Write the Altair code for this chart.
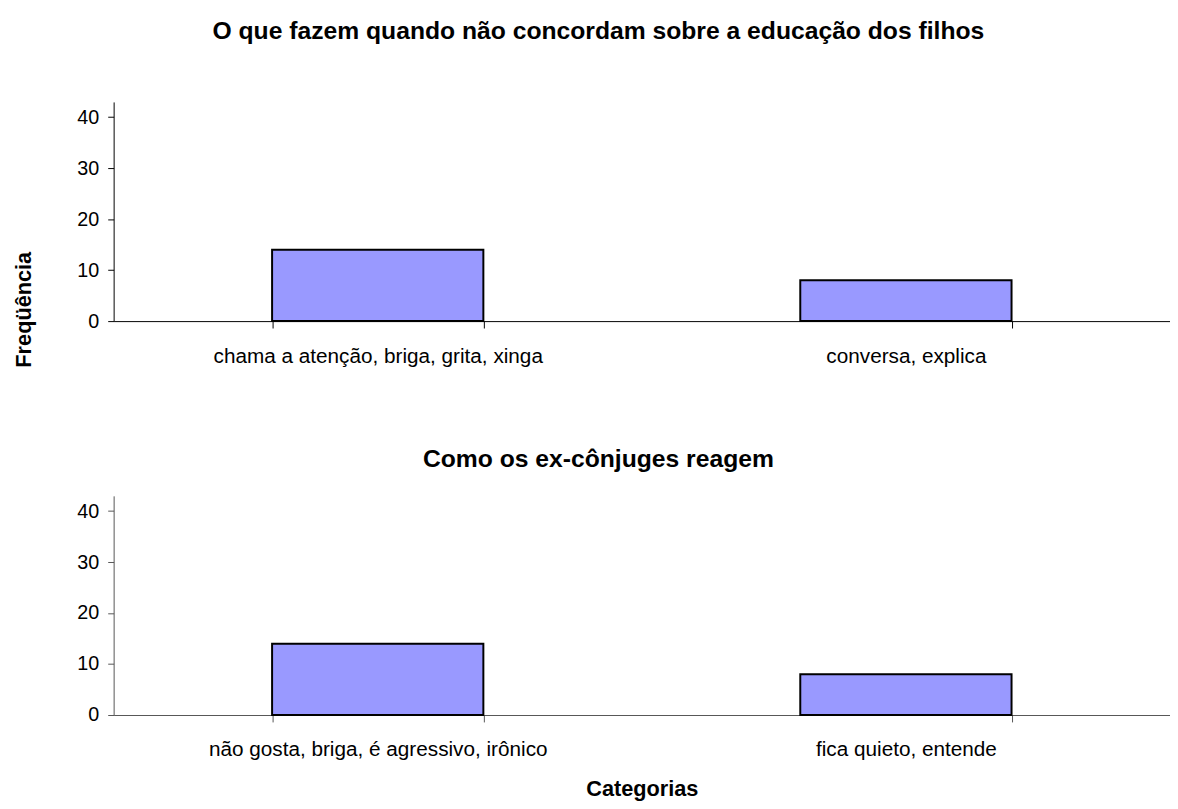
import altair as alt
import pandas as pd

# ---- data ----
top_categories = ["chama a atenção, briga, grita, xinga", "conversa, explica"]
top_values = [14, 8]
bottom_categories = ["não gosta, briga, é agressivo, irônico", "fica quieto, entende"]
bottom_values = [14, 8]
y_ticks = [0, 10, 20, 30, 40]
y_max = 43

top_title = "O que fazem quando não concordam sobre a educação dos filhos"
bottom_title = "Como os ex-cônjuges reagem"
y_title = "Freqüência"
x_title = "Categorias"

FONT = "Liberation Sans"
BAR_FILL = "#9999FF"


def panel(cats, vals, title, title_offset, axis_color, show_y_title, show_x_title):
    df = pd.DataFrame({"cat": cats, "val": vals})

    x_axis_kw = dict(
        labelAngle=0, tickBand="extent", tickSize=7, labelFontSize=21,
        labelFont=FONT, labelColor="black", labelPadding=17.5, labelLimit=800,
        domainColor=axis_color, tickColor=axis_color, grid=False,
    )
    if show_x_title:
        x_axis_kw.update(title=x_title, titleFont=FONT, titleFontSize=22,
                         titleFontWeight="bold", titleColor="black",
                         titleY=82, titleBaseline="alphabetic")
    else:
        x_axis_kw.update(title=None)

    y_axis_kw = dict(
        values=y_ticks, tickSize=6, labelPadding=9, labelFontSize=20,
        labelFont=FONT, labelColor="black", domainColor=axis_color,
        tickColor=axis_color, grid=False,
    )
    if show_y_title:
        y_axis_kw.update(title=y_title, titleFont=FONT, titleFontSize=22,
                         titleFontWeight="bold", titleColor="black",
                         titleAngle=270, titleX=-84, titleY=210,
                         titleAlign="center", titleBaseline="alphabetic")
    else:
        y_axis_kw.update(title=None)

    return alt.Chart(df).mark_bar(
        color=BAR_FILL, stroke="black", strokeWidth=2
    ).encode(
        x=alt.X("cat:N", sort=cats,
                scale=alt.Scale(paddingInner=0.6, paddingOuter=0.3),
                axis=alt.Axis(**x_axis_kw)),
        y=alt.Y("val:Q", scale=alt.Scale(domain=[0, y_max], nice=False),
                axis=alt.Axis(**y_axis_kw)),
    ).properties(
        width=1070, height=222,
        title=alt.TitleParams(
            text=title, font=FONT, fontSize=25, fontWeight="bold",
            color="black", anchor="middle", dx=-44, offset=title_offset,
            baseline="alphabetic",
        ),
    )


top = panel(top_categories, top_values, top_title, 38.5, "black", True, False)
bottom = panel(bottom_categories, bottom_values, bottom_title, 4, "#555555", False, True)

chart = alt.vconcat(top, bottom, spacing=177, bounds="flush").properties(
    padding={"left": 5, "top": 6, "right": 0, "bottom": 0}
).configure(background="white").configure_view(stroke=None)

chart.save("out.html", embed_options={"renderer": "svg", "actions": False})
